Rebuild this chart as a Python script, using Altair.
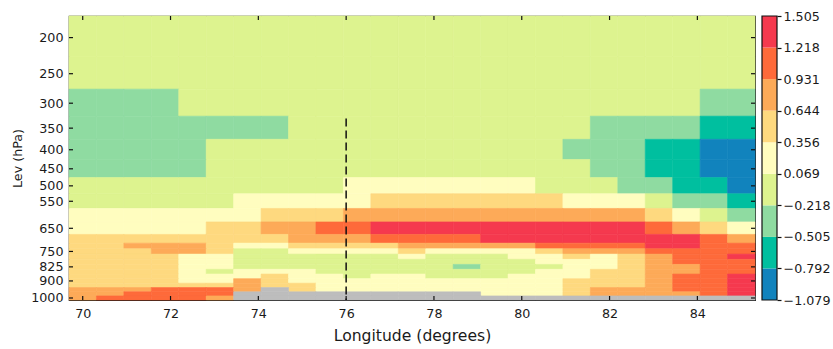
import altair as alt
import pandas as pd

# ---------------- data ----------------
LON_EDGES = [69.6875, 70.3125, 70.9375, 71.5625, 72.1875, 72.8125, 73.4375, 74.0625,
             74.6875, 75.3125, 75.9375, 76.5625, 77.1875, 77.8125, 78.4375, 79.0625,
             79.6875, 80.3125, 80.9375, 81.5625, 82.1875, 82.8125, 83.4375, 84.0625,
             84.6875, 85.3125]
LEVELS = [200, 250, 300, 350, 400, 450, 500, 550, 600, 650, 700, 725, 750, 775,
          800, 825, 850, 875, 900, 925, 950, 975, 1000]
P_EDGES = [175, 225, 275, 325, 375, 425, 475, 525, 575, 625, 675, 712.5, 737.5,
           762.5, 787.5, 812.5, 837.5, 862.5, 887.5, 912.5, 937.5, 962.5, 987.5, 1012.5]

# colour-bar bin edges and the representative value of each bin
CB_EDGES = [-1.079, -0.792, -0.505, -0.218, 0.069, 0.356, 0.644, 0.931, 1.218, 1.505]
BIN_VALUES = [-0.9355, -0.6485, -0.3615, -0.0745, 0.2125, 0.5, 0.7875, 1.0745, 1.3615]
BIN_COLORS = ["#1183bd", "#00bf9f", "#8fdba1", "#ddf38f", "#fffdbf",
              "#fed97f", "#fdaa58", "#fe6a3a", "#f5394e"]
MISSING_COLOR = "#bdbdbd"

# one string per level (west -> east), digit = colour bin, g = missing
ROWS = {
    200:  "3333333333333333333333333",
    250:  "3333333333333333333333333",
    300:  "2222333333333333333333322",
    350:  "2222222233333333333222211",
    400:  "2222233333333333332221100",
    450:  "2222233333333333333221100",
    500:  "3333333333444444433322110",
    550:  "3333334444455555554443221",
    600:  "4444444555666666666665432",
    650:  "4444455667788888888887654",
    700:  "5555555566677778888888876",
    725:  "5566654455556666677778877",
    750:  "5556653344445444456667777",
    775:  "5555443333334333445456778",
    800:  "5555443333333333344456777",
    825:  "5555443333333323334456677",
    850:  "5555434443333333344556677",
    875:  "5555444544344333444556778",
    900:  "5555446544444444445556778",
    925:  "5555556554444444445556778",
    950:  "6667776g54444444445666778",
    975:  "667777ggggggggg4445666678",
    1000: "677776ggggggggggggggggggg",
}

X_TICKS = [70, 72, 74, 76, 78, 80, 82, 84]
Y_TICKS = [200, 250, 300, 350, 400, 450, 500, 550, 650, 750, 825, 900, 1000]
MARKER_LON = [76]
MARKER_TOP = [330]

# ---------------- tables ----------------
cells, missing = [], []
for j, lev in enumerate(LEVELS):
    for i, ch in enumerate(ROWS[lev]):
        rec = {"lon": LON_EDGES[i], "lon2": LON_EDGES[i + 1],
               "p": P_EDGES[j], "p2": P_EDGES[j + 1]}
        if ch == "g":
            missing.append(rec)
        else:
            rec["value"] = BIN_VALUES[int(ch)]
            cells.append(rec)
cells = pd.DataFrame(cells)
missing = pd.DataFrame(missing)
cb = pd.DataFrame({"lo": CB_EDGES[:-1], "hi": CB_EDGES[1:], "value": BIN_VALUES})

W, H = 686, 284
FONT = "DejaVu Sans"
TXT = "#1a1a1a"

xscale = alt.Scale(domain=[LON_EDGES[0], LON_EDGES[-1]], nice=False, zero=False)
yscale = alt.Scale(type="log", domain=[P_EDGES[0], P_EDGES[-1]], reverse=True, nice=False)
cscale = alt.Scale(type="threshold", domain=CB_EDGES[1:-1], range=BIN_COLORS)

xaxis = alt.Axis(values=X_TICKS, ticks=False, tickSize=0, domain=False, grid=False,
                 labelFont=FONT, labelFontSize=12.7, labelColor=TXT, labelPadding=7,
                 labelFlush=False, format="d",
                 titleFont=FONT, titleFontSize=15.6, titleFontWeight="normal",
                 titleColor=TXT, titlePadding=9)
yaxis = alt.Axis(values=Y_TICKS, ticks=False, tickSize=0, domain=False, grid=False,
                 labelFont=FONT, labelFontSize=12.7, labelColor=TXT, labelPadding=6,
                 labelOverlap=False, labelFlush=False, format="d",
                 titleFont=FONT, titleFontSize=12.7, titleFontWeight="normal",
                 titleColor=TXT, titlePadding=6)


def X(field="lon"):
    return alt.X(f"{field}:Q", scale=xscale, axis=xaxis, title="Longitude (degrees)")


def Y(field="p"):
    return alt.Y(f"{field}:Q", scale=yscale, axis=yaxis, title="Lev (hPa)")


heat = alt.Chart(cells).mark_rect(strokeWidth=0.6).encode(
    x=X(), x2="lon2:Q", y=Y(), y2="p2:Q",
    color=alt.Color("value:Q", scale=cscale, legend=None),
    stroke=alt.Stroke("value:Q", scale=cscale, legend=None),
)
gray = alt.Chart(missing).mark_rect(color=MISSING_COLOR, stroke=MISSING_COLOR,
                                     strokeWidth=0.6).encode(
    x=X(), x2="lon2:Q", y=Y(), y2="p2:Q")

marker = alt.Chart(pd.DataFrame({"lon": MARKER_LON, "p": MARKER_TOP,
                                 "p2": [P_EDGES[-1]]})).mark_rule(
    color="#111", strokeWidth=1.5, strokeDash=[8, 4]).encode(
    x=X(), y=Y(), y2="p2:Q")

ytk = pd.DataFrame({"p": Y_TICKS})
xtk = pd.DataFrame({"lon": X_TICKS})
tick_style = dict(color="#111", strokeWidth=1.2)
t_left = alt.Chart(ytk).mark_rule(**tick_style).encode(
    y=Y(), x=alt.value(0), x2=alt.value(4))
t_right = alt.Chart(ytk).mark_rule(**tick_style).encode(
    y=Y(), x=alt.value(W - 4), x2=alt.value(W))
t_bottom = alt.Chart(xtk).mark_rule(**tick_style).encode(
    x=X(), y=alt.value(H - 4), y2=alt.value(H))
t_top = alt.Chart(xtk).mark_rule(**tick_style).encode(
    x=X(), y=alt.value(0), y2=alt.value(4))

main = alt.layer(heat, gray, marker, t_left, t_right, t_bottom, t_top)

CB_X0, CB_X1 = 693, 708
cbar = alt.Chart(cb).mark_rect().encode(
    x=alt.value(CB_X0), x2=alt.value(CB_X1),
    y=alt.Y("lo:Q", scale=alt.Scale(domain=[CB_EDGES[0], CB_EDGES[-1]], nice=False, zero=False),
            axis=alt.Axis(orient="right", offset=CB_X1 - W, values=CB_EDGES,
                          labelExpr="replace(format(datum.value, '.3f'), '-', '\u2212')",
                          domain=False, grid=False, ticks=True, tickSize=4,
                          tickColor="#111", tickWidth=1.2,
                          labelFont=FONT, labelFontSize=12.7, labelColor=TXT,
                          labelPadding=2, labelOverlap=False, labelFlush=False,
                          labelBound=False),
            title=None),
    y2="hi:Q",
    color=alt.Color("value:Q", scale=cscale, legend=None),
)
cframe = alt.Chart(pd.DataFrame({"k": [0]})).mark_rect(
    fill=None, fillOpacity=0, stroke="#111", strokeWidth=1.2).encode(
    x=alt.value(CB_X0), x2=alt.value(CB_X1), y=alt.value(0), y2=alt.value(H))

chart = alt.layer(main, cbar, cframe).resolve_scale(
    y="independent", color="independent", stroke="independent").properties(
    width=W, height=H,
    autosize=alt.AutoSizeParams(type="none"),
    padding={"left": 69, "top": 16, "right": 833 - 69 - W, "bottom": 349 - 16 - H},
    background="white",
).configure_view(stroke="#111", strokeWidth=1.2)

chart.save("out.html", embed_options={"renderer": "svg", "actions": False})
